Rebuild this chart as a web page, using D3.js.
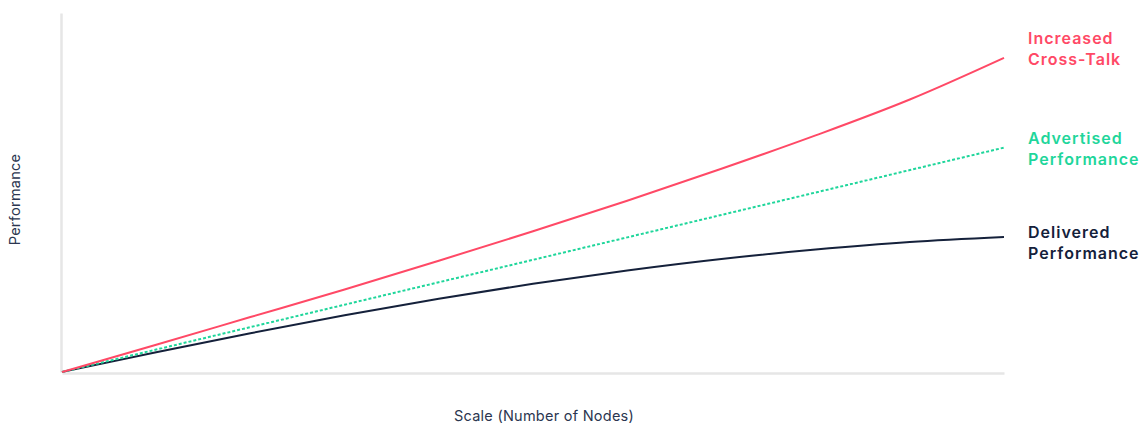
<!DOCTYPE html>
<html>
<head>
<meta charset="utf-8">
<script src="https://cdn.jsdelivr.net/npm/d3@7"></script>
<style>
  body { margin: 0; background: #fff; }
  svg { display: block; font-family: Inter, "Noto Sans", sans-serif; }
</style>
</head>
<body>
<svg id="chart"></svg>
<script>
// Scale (number of nodes) on x, performance on y (no tick labels in the original)
const scaleSteps = [0, 1, 2, 3, 4, 5, 6, 7, 8, 9, 10];
const crossTalk = [0, 7.6, 15.3, 23.0, 31.0, 39.2, 47.7, 56.6, 65.9, 75.9, 87.5];
const advertised = [0, 6.25, 12.5, 18.75, 25, 31.25, 37.5, 43.75, 50, 56.25, 62.5];
const delivered = [0, 5.5, 10.8, 15.8, 20.4, 24.6, 28.3, 31.5, 34.1, 36.2, 37.6];

const seriesNames = ['Increased Cross-Talk', 'Advertised Performance', 'Delivered Performance'];
const seriesLabels = [['Increased', 'Cross-Talk'], ['Advertised', 'Performance'], ['Delivered', 'Performance']];

const width = 1143;
const height = 424;
const margin = { top: 13, right: 139, bottom: 52, left: 62 };

const colors = ['#ff4966', '#1fd69b', '#15213b'];
const dashes = [null, '3,2', null];
const labelOffsets = [-14, -4, 1];

const svg = d3.select('#chart')
  .attr('width', width)
  .attr('height', height);

const x = d3.scaleLinear()
  .domain([0, 10])
  .range([margin.left, width - margin.right]);

const y = d3.scaleLinear()
  .domain([0, 100])
  .range([height - margin.bottom, margin.top]);

// Axes: plain grey lines, no ticks
const xAxis = d3.axisBottom(x).ticks(0).tickSizeOuter(0);
const yAxis = d3.axisLeft(y).ticks(0).tickSizeOuter(0);

const xAxisG = svg.append('g')
  .attr('transform', `translate(0,${y(0) + 1})`)
  .call(xAxis);
const yAxisG = svg.append('g')
  .attr('transform', `translate(${x(0) - 1},0)`)
  .call(yAxis);
[xAxisG, yAxisG].forEach((g) => {
  g.select('.domain')
    .attr('stroke', '#e6e6e6')
    .attr('stroke-width', 2.5);
});

const data = [crossTalk, advertised, delivered].map((vals, i) => ({
  name: seriesNames[i],
  label: seriesLabels[i],
  values: vals.map((v, j) => ({ step: scaleSteps[j], value: v })),
}));

const line = d3.line()
  .curve(d3.curveMonotoneX)
  .x((d) => x(d.step))
  .y((d) => y(d.value));

// draw in reverse so the red line sits on top near the origin
svg.append('g')
  .selectAll('path')
  .data(data.slice().reverse())
  .join('path')
  .attr('fill', 'none')
  .attr('stroke', (d) => colors[data.indexOf(d)])
  .attr('stroke-width', 2)
  .attr('stroke-dasharray', (d) => dashes[data.indexOf(d)])
  .attr('d', (d) => line(d.values));

// end labels
const labels = svg.append('g')
  .selectAll('text')
  .data(data)
  .join('text')
  .attr('x', x(10) + 24)
  .attr('y', (d, i) => y(d.values[d.values.length - 1].value) + labelOffsets[i])
  .attr('fill', (d, i) => colors[i])
  .attr('font-size', 16)
  .attr('font-weight', 600)
  .attr('letter-spacing', 1);

labels.selectAll('tspan')
  .data((d) => d.label)
  .join('tspan')
  .attr('x', x(10) + 24)
  .attr('dy', (d, i) => (i === 0 ? 0 : 21))
  .text((d) => d);

// axis titles
svg.append('text')
  .attr('x', (x(0) + x(10)) / 2 + 11)
  .attr('y', height - 3)
  .attr('text-anchor', 'middle')
  .attr('fill', '#2b3650')
  .attr('font-size', 14.5)
  .attr('letter-spacing', 0.25)
  .text('Scale (Number of Nodes)');

svg.append('text')
  .attr('transform', `translate(20,${(y(0) + y(100)) / 2 + 7}) rotate(-90)`)
  .attr('text-anchor', 'middle')
  .attr('fill', '#2b3650')
  .attr('font-size', 14.5)
  .attr('letter-spacing', 0.25)
  .text('Performance');
</script>
</body>
</html>
